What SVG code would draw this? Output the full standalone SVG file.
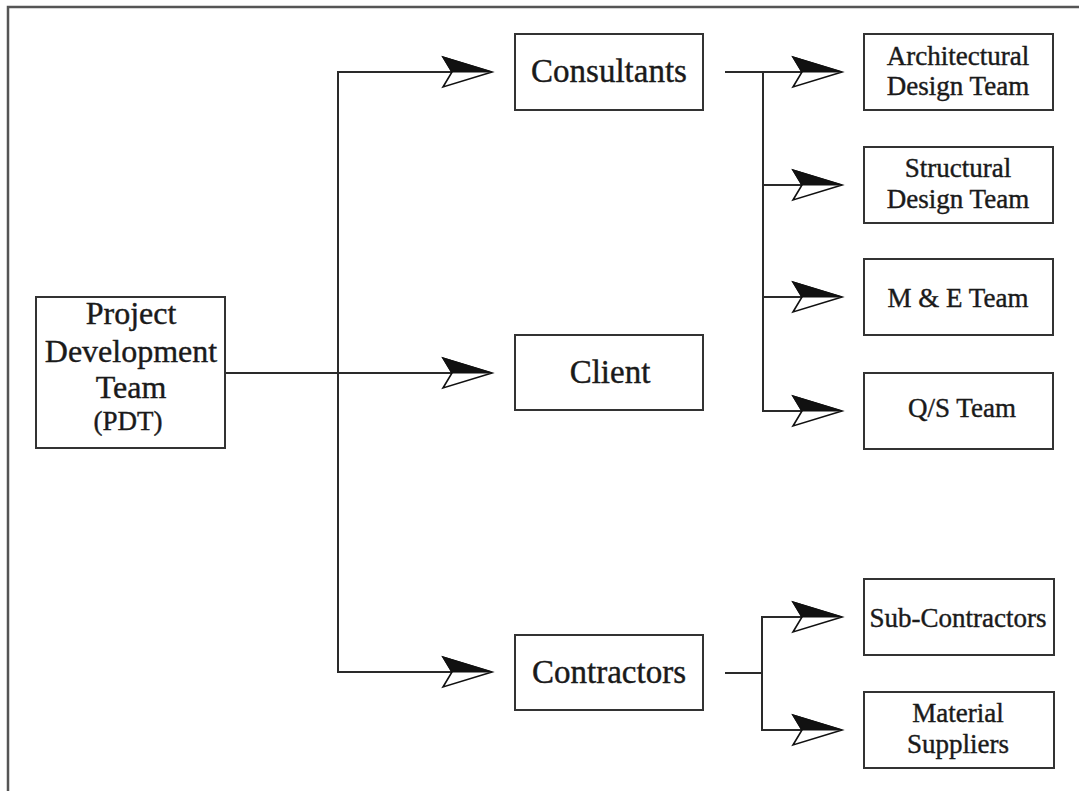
<svg xmlns="http://www.w3.org/2000/svg" xmlns:xlink="http://www.w3.org/1999/xlink" width="1079" height="791" viewBox="0 0 1079 791">
<style>
.box{fill:#fff;stroke:#333;stroke-width:2}
.t{font-family:"Liberation Serif","Times New Roman",serif;fill:#1a1a1a;stroke:#1a1a1a;stroke-width:0.4;text-anchor:middle}
.big{font-size:33px}
.sm{font-size:27px}
.ln{fill:none;stroke:#2a2a2a;stroke-width:2}
</style>
<defs>
<g id="arr">
<path d="M0,0 L-49,-15 L-40,0 L-49,15 Z" fill="#fff" stroke="#111" stroke-width="1.6" stroke-linejoin="miter"/>
<path d="M0,0 L-49,-15 L-40,0 Z" fill="#111" stroke="#111" stroke-width="1.2"/>
</g>
</defs>
<rect width="1079" height="791" fill="#fff"/>
<path d="M8,791 L8,7 L1079,7" fill="none" stroke="#555" stroke-width="2.5"/>
<g id="connectors">
<path class="ln" d="M225,373 L452,373"/>
<path class="ln" d="M452,72 L338,72 L338,672 L452,672"/>
<path class="ln" d="M725,72 L802,72 M763,72 L763,411 L802,411 M763,185 L802,185 M763,297 L802,297"/>
<path class="ln" d="M725,673 L762,673 M802,617 L762,617 L762,730 L802,730"/>
<use xlink:href="#arr" x="492" y="72"/>
<use xlink:href="#arr" x="492" y="373"/>
<use xlink:href="#arr" x="492" y="672"/>
<use xlink:href="#arr" x="842" y="72"/>
<use xlink:href="#arr" x="842" y="185"/>
<use xlink:href="#arr" x="842" y="297"/>
<use xlink:href="#arr" x="842" y="411"/>
<use xlink:href="#arr" x="842" y="617"/>
<use xlink:href="#arr" x="842" y="730"/>
</g>
<g id="pdt">
<rect class="box" x="36" y="297" width="189" height="151"/>
<text class="t" font-size="32" x="131" y="324">Project</text>
<text class="t" font-size="32" x="131" y="362">Development</text>
<text class="t" font-size="32" x="131" y="398">Team</text>
<text class="t" font-size="27" x="128" y="430">(PDT)</text>
</g>
<g id="consultants">
<rect class="box" x="515" y="34" width="188" height="76"/>
<text class="t big" x="609" y="82">Consultants</text>
</g>
<g id="client">
<rect class="box" x="515" y="335" width="188" height="75"/>
<text class="t big" x="610" y="383">Client</text>
</g>
<g id="contractors">
<rect class="box" x="515" y="635" width="188" height="75"/>
<text class="t big" x="609" y="683">Contractors</text>
</g>
<g id="architectural">
<rect class="box" x="864" y="34" width="189" height="76"/>
<text class="t sm" x="958" y="65">Architectural</text>
<text class="t sm" x="958" y="95">Design Team</text>
</g>
<g id="structural">
<rect class="box" x="864" y="147" width="189" height="76"/>
<text class="t sm" x="958" y="177">Structural</text>
<text class="t sm" x="958" y="208">Design Team</text>
</g>
<g id="me">
<rect class="box" x="864" y="259" width="189" height="76"/>
<text class="t sm" x="958" y="307">M &amp; E Team</text>
</g>
<g id="qs">
<rect class="box" x="864" y="373" width="189" height="76"/>
<text class="t sm" x="962" y="417">Q/S Team</text>
</g>
<g id="subcontractors">
<rect class="box" x="864" y="579" width="190" height="76"/>
<text class="t sm" x="958" y="627">Sub-Contractors</text>
</g>
<g id="material">
<rect class="box" x="864" y="692" width="190" height="76"/>
<text class="t sm" x="958" y="722">Material</text>
<text class="t sm" x="958" y="753">Suppliers</text>
</g>
</svg>
